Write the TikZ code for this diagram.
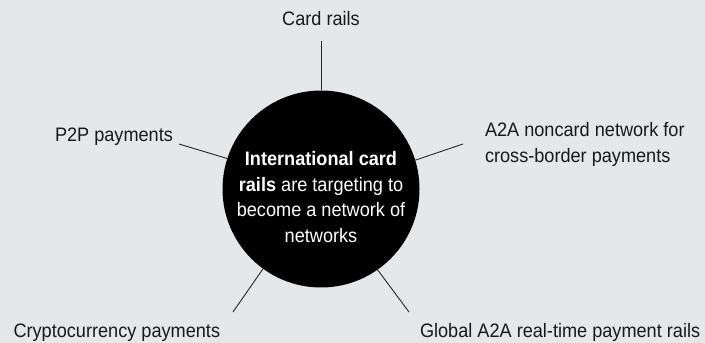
\documentclass[tikz,border=0pt]{standalone}
\usepackage{fontspec}
\setmainfont{Liberation Sans}[FakeStretch=0.93]
\definecolor{bg}{RGB}{230,231,233}
\newcommand\leftlines[1]{\vtop{\halign{##\hfil\cr#1\crcr}}}
\newcommand\centerlines[1]{\vtop{\halign{\hfil##\hfil\cr#1\crcr}}}
\begin{document}
\begin{tikzpicture}[x=1pt,y=1pt,
  lbl/.style={inner sep=0pt, outer sep=0pt, font=\fontsize{19.5}{25.5}\selectfont, text=black!90},
  spoke/.style={draw=black!85, line width=0.9pt}]
\fill[bg] (0,0) rectangle (705,343);
\useasboundingbox (0,0) rectangle (705,343);
\node[circle, fill=black, minimum size=197pt, inner sep=0pt, outer sep=0pt] (hub) at (321,154) {};
\node[lbl, text=white, anchor=base] (hubtext) at (321,177) {\centerlines{\textbf{International card}\cr\textbf{rails} are targeting to\cr become a network of\cr networks}};
\node[lbl, anchor=base] (card) at (321,317) {Card rails};
\node[lbl, anchor=base west] (p2p) at (55,201.5) {P2P payments};
\node[lbl, anchor=base west] (a2a) at (485,206) {\leftlines{A2A noncard network for\cr cross-border payments}};
\node[lbl, anchor=base west] (crypto) at (13.5,5.7) {Cryptocurrency payments};
\node[lbl, anchor=base west] (global) at (420,5.2) {Global A2A real-time payment rails};
\coordinate (ctop) at (321,302);
\coordinate (cp2p) at (179,199);
\coordinate (ca2a) at (463,199);
\coordinate (ccry) at (233,31);
\coordinate (cglo) at (409,31);
\draw[spoke] (hub.90) -- (ctop);
\draw[spoke] (hub.162.6) -- (cp2p);
\draw[spoke] (hub.17.4) -- (ca2a);
\draw[spoke] (hub.234.5) -- (ccry);
\draw[spoke] (hub.305.5) -- (cglo);
\end{tikzpicture}
\end{document}
